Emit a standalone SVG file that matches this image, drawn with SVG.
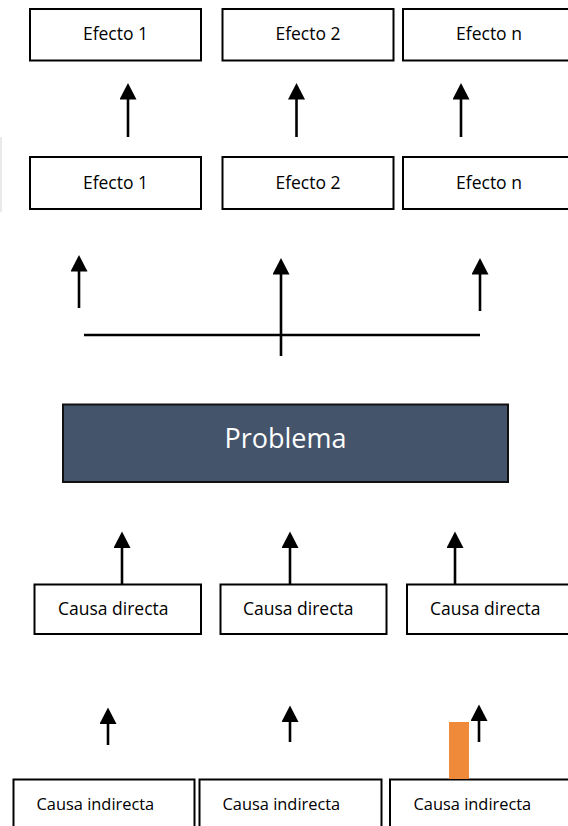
<svg xmlns="http://www.w3.org/2000/svg" width="568" height="826" viewBox="0 0 568 826">
  <style>
    .box { fill: #ffffff; stroke: #000000; stroke-width: 2; }
    .lbl { font-family: "Open Sans", "Noto Sans", "DejaVu Sans", sans-serif; font-size: 17.5px; fill: #000000; }
    .lbl-s { font-family: "Open Sans", "Noto Sans", "DejaVu Sans", sans-serif; font-size: 16.4px; fill: #000000; }
    .conn { stroke: #000000; stroke-width: 2.6; fill: none; }
    .arrow { stroke: #000000; stroke-width: 2.6; fill: none; marker-end: url(#head); }
  </style>
  <defs>
    <marker id="head" markerUnits="userSpaceOnUse" markerWidth="17" markerHeight="17" refX="6" refY="8.5" orient="auto">
      <path d="M0,0 L16.5,8.5 L0,17 z" fill="#000000"/>
    </marker>
  </defs>
  <rect width="568" height="826" fill="#ffffff"/>

  <!-- faint artifact at left edge -->
  <line x1="1" y1="137" x2="1" y2="212" stroke="#e2e2e2" stroke-width="1.5"/>

  <!-- Effects row 1 -->
  <g id="efecto1-top">
    <rect class="box" x="30" y="9" width="171" height="51.5"/>
    <text class="lbl" x="115.5" y="39.5" text-anchor="middle">Efecto 1</text>
  </g>
  <g id="efecto2-top">
    <rect class="box" x="222.5" y="9" width="171" height="51.5"/>
    <text class="lbl" x="308" y="39.5" text-anchor="middle">Efecto 2</text>
  </g>
  <g id="efecton-top">
    <rect class="box" x="403" y="9" width="171" height="51.5"/>
    <text class="lbl" x="489" y="39.5" text-anchor="middle">Efecto n</text>
  </g>

  <!-- Effects row 2 -->
  <g id="efecto1">
    <rect class="box" x="30" y="157" width="171" height="52"/>
    <text class="lbl" x="115.5" y="188.5" text-anchor="middle">Efecto 1</text>
  </g>
  <g id="efecto2">
    <rect class="box" x="222.5" y="157" width="171" height="52"/>
    <text class="lbl" x="308" y="188.5" text-anchor="middle">Efecto 2</text>
  </g>
  <g id="efecton">
    <rect class="box" x="403" y="157" width="171" height="52"/>
    <text class="lbl" x="489" y="188.5" text-anchor="middle">Efecto n</text>
  </g>

  <!-- Problem -->
  <g id="problema">
    <rect x="63" y="404.5" width="445" height="77.5" fill="#44546A" stroke="#111111" stroke-width="2"/>
    <text x="285.5" y="448" text-anchor="middle" font-family="'Open Sans', 'Noto Sans', 'DejaVu Sans', sans-serif" font-size="27" fill="#ffffff">Problema</text>
  </g>

  <!-- Direct causes -->
  <g id="causa-directa-1">
    <rect class="box" x="34.5" y="584.5" width="166.5" height="49.5"/>
    <text class="lbl" x="58" y="615">Causa directa</text>
  </g>
  <g id="causa-directa-2">
    <rect class="box" x="220.5" y="584.5" width="166" height="49.5"/>
    <text class="lbl" x="243" y="615">Causa directa</text>
  </g>
  <g id="causa-directa-3">
    <rect class="box" x="407" y="584.5" width="166" height="49.5"/>
    <text class="lbl" x="430" y="615">Causa directa</text>
  </g>

  <!-- Indirect causes -->
  <g id="causa-indirecta-1">
    <rect class="box" x="13.5" y="779.5" width="181" height="70"/>
    <text class="lbl-s" x="36.5" y="810">Causa indirecta</text>
  </g>
  <g id="causa-indirecta-2">
    <rect class="box" x="199.5" y="779.5" width="182" height="70"/>
    <text class="lbl-s" x="222.5" y="810">Causa indirecta</text>
  </g>
  <g id="causa-indirecta-3">
    <rect class="box" x="390" y="779.5" width="182" height="70"/>
    <text class="lbl-s" x="413.5" y="810">Causa indirecta</text>
  </g>

  <!-- orange mark -->
  <rect x="449" y="722" width="20" height="57" fill="#EF8A3A"/>

  <!-- Connectors -->
  <g id="connectors">
    <!-- row2 effects to row1 effects -->
    <line class="arrow" x1="128" y1="137" x2="128" y2="93.5"/>
    <line class="arrow" x1="296.5" y1="137" x2="296.5" y2="93.5"/>
    <line class="arrow" x1="461" y1="137" x2="461" y2="93.5"/>

    <!-- from horizontal bar up to effects -->
    <line class="conn" x1="84" y1="335" x2="480" y2="335"/>
    <line class="arrow" x1="79" y1="308" x2="79" y2="265.5"/>
    <line class="arrow" x1="281" y1="356" x2="281" y2="268.5"/>
    <line class="arrow" x1="480" y1="311" x2="480" y2="268.5"/>

    <!-- direct causes up -->
    <line class="arrow" x1="122" y1="584" x2="122" y2="542"/>
    <line class="arrow" x1="290" y1="584" x2="290" y2="542"/>
    <line class="arrow" x1="455" y1="584" x2="455" y2="542"/>

    <!-- indirect causes up -->
    <line class="arrow" x1="108" y1="745" x2="108" y2="718"/>
    <line class="arrow" x1="290" y1="742" x2="290" y2="716"/>
    <line class="arrow" x1="479" y1="742" x2="479" y2="715"/>
  </g>
</svg>
